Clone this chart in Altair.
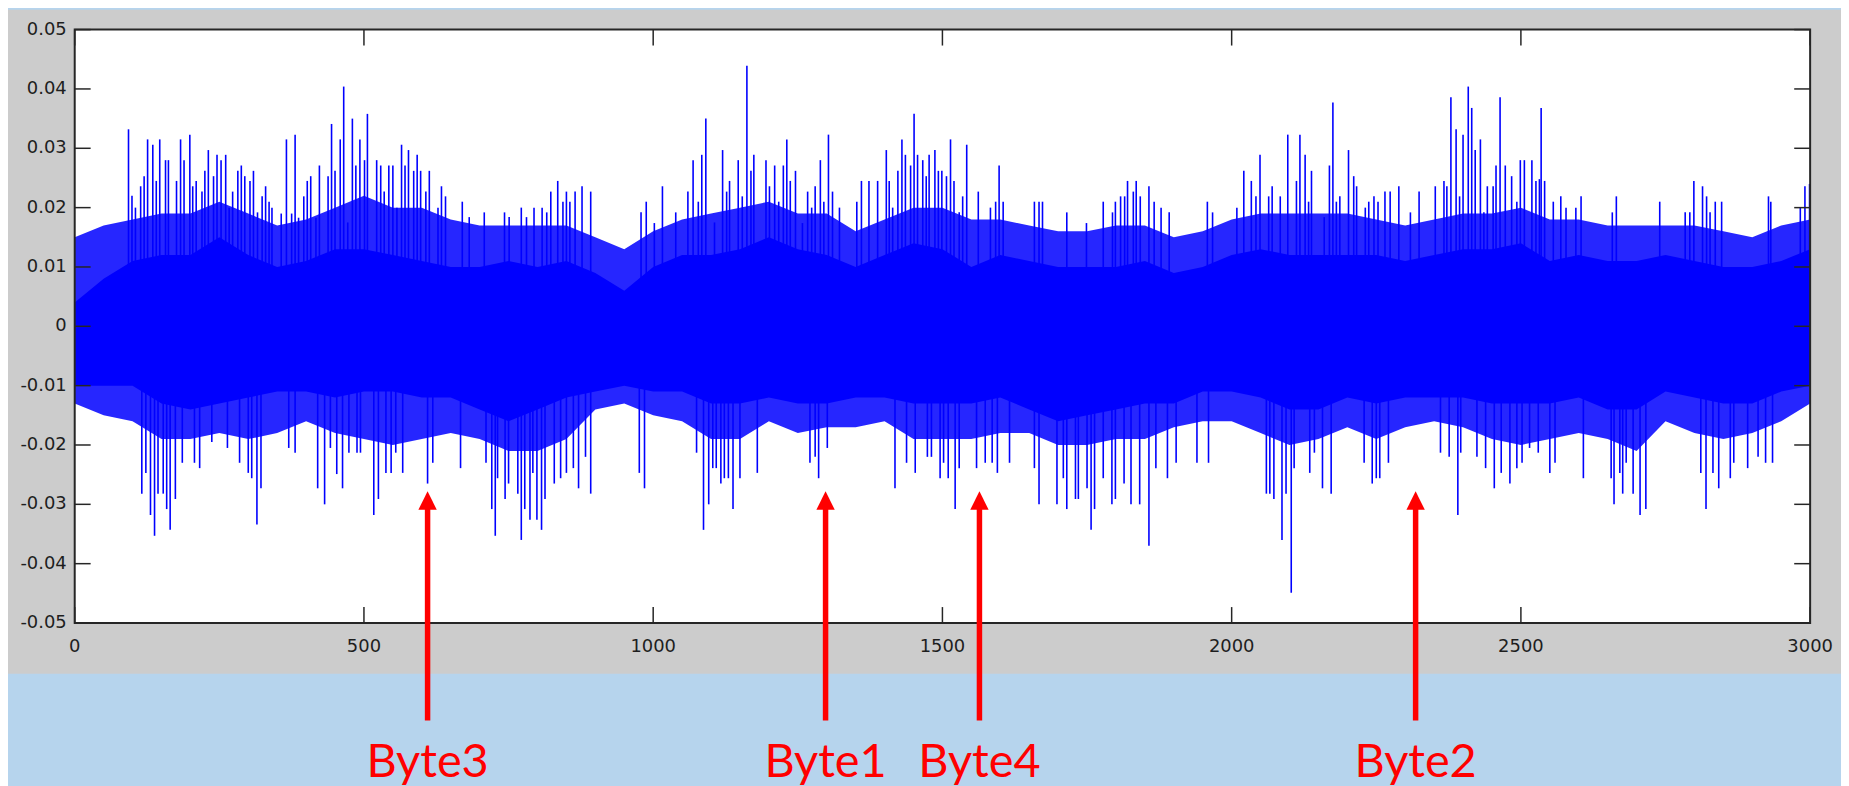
import altair as alt
import pandas as pd

# ---------------- data ----------------
env_x = list(range(0, 3001, 50))
upper_fringe = [0.015, 0.017, 0.018, 0.019, 0.019, 0.021, 0.019, 0.017, 0.018, 0.020,
                0.022, 0.020, 0.020, 0.018, 0.017, 0.017, 0.017, 0.017, 0.015, 0.013,
                0.016, 0.018, 0.019, 0.020, 0.021, 0.019, 0.019, 0.016, 0.018, 0.020,
                0.020, 0.018, 0.018, 0.017, 0.016, 0.016, 0.017, 0.017, 0.015, 0.016,
                0.018, 0.019, 0.019, 0.019, 0.019, 0.018, 0.017, 0.018, 0.019, 0.019,
                0.020, 0.018, 0.018, 0.017, 0.017, 0.017, 0.017, 0.016, 0.015, 0.017, 0.018]
upper_core = [0.004, 0.008, 0.011, 0.012, 0.012, 0.015, 0.012, 0.010, 0.011, 0.013,
              0.013, 0.012, 0.011, 0.010, 0.010, 0.011, 0.010, 0.011, 0.009, 0.006,
              0.010, 0.012, 0.012, 0.013, 0.015, 0.013, 0.012, 0.010, 0.012, 0.014,
              0.013, 0.010, 0.012, 0.011, 0.010, 0.010, 0.010, 0.011, 0.009, 0.010,
              0.012, 0.013, 0.012, 0.012, 0.012, 0.012, 0.011, 0.012, 0.013, 0.013,
              0.014, 0.011, 0.012, 0.011, 0.011, 0.012, 0.011, 0.010, 0.010, 0.011, 0.013]
lower_core = [-0.010, -0.010, -0.010, -0.013, -0.014, -0.013, -0.012, -0.011, -0.011, -0.012,
              -0.011, -0.011, -0.012, -0.012, -0.014, -0.016, -0.014, -0.012, -0.011, -0.010,
              -0.011, -0.011, -0.013, -0.013, -0.012, -0.013, -0.013, -0.012, -0.012, -0.013,
              -0.013, -0.013, -0.012, -0.014, -0.016, -0.015, -0.014, -0.013, -0.013, -0.011,
              -0.011, -0.012, -0.014, -0.014, -0.012, -0.013, -0.012, -0.012, -0.012, -0.013,
              -0.013, -0.013, -0.012, -0.014, -0.014, -0.011, -0.012, -0.013, -0.013, -0.011, -0.010]
lower_fringe = [-0.013, -0.015, -0.016, -0.019, -0.019, -0.018, -0.019, -0.018, -0.016, -0.018,
                -0.019, -0.020, -0.019, -0.018, -0.019, -0.021, -0.021, -0.019, -0.014, -0.013,
                -0.015, -0.016, -0.019, -0.019, -0.016, -0.018, -0.017, -0.017, -0.016, -0.019,
                -0.019, -0.019, -0.018, -0.018, -0.020, -0.020, -0.019, -0.019, -0.017, -0.016,
                -0.016, -0.018, -0.020, -0.019, -0.017, -0.019, -0.017, -0.016, -0.017, -0.019,
                -0.020, -0.019, -0.018, -0.019, -0.021, -0.016, -0.018, -0.019, -0.018, -0.016, -0.013]

top_spike_x = [93, 99, 105, 114, 120, 126, 135, 141, 147, 157, 162, 176, 183, 189, 199, 204,
               210, 220, 225, 231, 240, 246, 253, 261, 267, 273, 282, 288, 294, 303, 309, 316,
               324, 330, 336, 341, 357, 366, 375, 381, 387, 396, 402, 408, 417, 423, 438, 444,
               450, 459, 465, 472, 480, 486, 493, 501, 506, 522, 529, 535, 543, 550, 557, 565,
               571, 577, 586, 592, 598, 607, 613, 628, 634, 641, 670, 682, 708, 743, 751, 772,
               781, 794, 808, 816, 823, 835, 844, 850, 856, 865, 877, 892, 979, 988, 1002, 1016,
               1039, 1060, 1069, 1078, 1084, 1091, 1106, 1120, 1127, 1132, 1147, 1154, 1162, 1169,
               1174, 1195, 1201, 1210, 1217, 1225, 1231, 1237, 1246, 1258, 1267, 1274, 1280, 1289,
               1295, 1303, 1310, 1322, 1352, 1360, 1373, 1388, 1403, 1408, 1414, 1423, 1430, 1436,
               1445, 1451, 1457, 1466, 1472, 1477, 1487, 1493, 1499, 1507, 1514, 1520, 1529, 1535,
               1542, 1562, 1583, 1592, 1598, 1605, 1659, 1667, 1673, 1715, 1749, 1778, 1794, 1799,
               1808, 1815, 1820, 1830, 1835, 1842, 1857, 1866, 1878, 1892, 1958, 1967, 2009, 2021,
               2034, 2042, 2049, 2064, 2070, 2084, 2097, 2112, 2118, 2127, 2133, 2138, 2160, 2169,
               2175, 2181, 2187, 2202, 2211, 2216, 2231, 2237, 2246, 2253, 2265, 2274, 2289, 2309,
               2324, 2352, 2367, 2372, 2379, 2388, 2394, 2400, 2409, 2415, 2421, 2430, 2436, 2442,
               2452, 2457, 2464, 2473, 2484, 2493, 2499, 2506, 2519, 2526, 2532, 2535, 2541, 2556,
               2569, 2578, 2595, 2604, 2658, 2665, 2740, 2784, 2792, 2799, 2814, 2821, 2827, 2836,
               2847, 2928, 2932, 2983, 2991, 2999]
top_spike_y = [0.0332, 0.022, 0.020, 0.0236, 0.0253, 0.0315, 0.0306, 0.0245, 0.0315, 0.028, 0.028, 0.0245, 0.0315, 0.028, 0.0323, 0.0236,
               0.0245, 0.0227, 0.0262, 0.0297, 0.0253, 0.0289, 0.028, 0.0289, 0.020, 0.0227, 0.0262, 0.0271, 0.0253, 0.0245, 0.0262, 0.0192,
               0.0219, 0.0236, 0.021, 0.020, 0.019, 0.0315, 0.019, 0.0323, 0.0183, 0.0219, 0.0245, 0.0253, 0.0183, 0.0271, 0.0253, 0.0341,
               0.0262, 0.0315, 0.0404, 0.0175, 0.035, 0.0271, 0.0315, 0.028, 0.0358, 0.028, 0.0271, 0.0227, 0.0271, 0.0271, 0.020, 0.0306,
               0.0271, 0.0297, 0.0262, 0.0289, 0.0262, 0.0227, 0.0262, 0.020, 0.0236, 0.0219, 0.021, 0.0184, 0.0192, 0.0192, 0.0184, 0.020,
               0.0184, 0.020, 0.020, 0.0192, 0.0227, 0.0245, 0.021, 0.0227, 0.021, 0.0227, 0.0236, 0.0227, 0.0192, 0.021, 0.0174, 0.0236,
               0.0192, 0.0227, 0.028, 0.021, 0.0289, 0.035, 0.0175, 0.0297, 0.0227, 0.0245, 0.028, 0.0219, 0.0439, 0.0262,
               0.0289, 0.028, 0.0236, 0.0271, 0.021, 0.0271, 0.0315, 0.0245, 0.0262, 0.0174, 0.0227, 0.020, 0.0236, 0.028,
               0.021, 0.0323, 0.0227, 0.020, 0.021, 0.0245, 0.0245, 0.0245, 0.0297, 0.0245, 0.020, 0.0262, 0.0315, 0.0289,
               0.0271, 0.0358, 0.0289, 0.028, 0.0253, 0.0289, 0.0297, 0.0262, 0.0262, 0.0253, 0.0315, 0.0245, 0.0192, 0.0219,
               0.0306, 0.0227, 0.020, 0.021, 0.0271, 0.021, 0.021, 0.021, 0.021, 0.0192, 0.0174, 0.021, 0.0192, 0.021,
               0.0219, 0.0219, 0.0245, 0.0227, 0.0245, 0.0219, 0.0236, 0.021, 0.020, 0.0192, 0.021, 0.0192, 0.020, 0.0262,
               0.0245, 0.0219, 0.0289, 0.0219, 0.0236, 0.0219, 0.0323, 0.0245, 0.0323, 0.0289, 0.021, 0.0262, 0.0184, 0.0271,
               0.0377, 0.021, 0.0219, 0.0297, 0.0253, 0.0236, 0.020, 0.021, 0.0219, 0.021, 0.0227, 0.0227, 0.0236, 0.0192,
               0.0227, 0.0236, 0.0245, 0.0236, 0.0386, 0.0332, 0.0219, 0.0323, 0.0404, 0.0368, 0.0297, 0.0315, 0.0192, 0.0236,
               0.0236, 0.0271, 0.0386, 0.0271, 0.0253, 0.021, 0.028, 0.028, 0.028, 0.0245, 0.0248, 0.0368, 0.0245, 0.021,
               0.0219, 0.020, 0.020, 0.0219, 0.0192, 0.0219, 0.021, 0.0192, 0.0192, 0.0245, 0.0236, 0.0219, 0.0192, 0.021,
               0.021, 0.0219, 0.021, 0.020, 0.0236, 0.024]

bot_spike_x = [116, 123, 131, 138, 144, 153, 159, 165, 174, 186, 207, 216, 237, 264, 285, 300,
               306, 315, 322, 370, 381, 420, 432, 442, 453, 463, 474, 488, 494, 517, 525, 538,
               547, 555, 567, 610, 619, 667, 711, 721, 727, 731, 744, 750, 766, 772, 778, 787,
               792, 799, 807, 813, 829, 840, 850, 862, 871, 883, 892, 976, 985, 1075, 1087, 1096,
               1103, 1109, 1117, 1123, 1130, 1138, 1150, 1180, 1271, 1280, 1286, 1301, 1418, 1438,
               1453, 1474, 1481, 1496, 1502, 1510, 1522, 1529, 1559, 1574, 1586, 1595, 1616, 1659,
               1667, 1698, 1709, 1715, 1730, 1735, 1750, 1757, 1763, 1778, 1793, 1799, 1814, 1826,
               1841, 1857, 1869, 1889, 1904, 1940, 1960, 2060, 2066, 2073, 2087, 2094, 2103, 2108,
               2135, 2143, 2157, 2172, 2229, 2243, 2250, 2256, 2271, 2361, 2376, 2391, 2396, 2424,
               2439, 2454, 2466, 2481, 2493, 2502, 2515, 2530, 2550, 2559, 2608, 2656, 2661, 2671,
               2676, 2682, 2694, 2706, 2716, 2811, 2820, 2832, 2842, 2862, 2868, 2892, 2910, 2923, 2935]
bot_spike_y = [-0.0282, -0.0247, -0.0318, -0.0353, -0.0282, -0.0282, -0.0308, -0.0343, -0.0291, -0.023, -0.023, -0.0239, -0.0195, -0.0205, -0.023, -0.0247,
               -0.0256, -0.0334, -0.0273, -0.0205, -0.0213, -0.0273, -0.030, -0.0205, -0.0249, -0.0273, -0.0213, -0.0213, -0.0213, -0.0318, -0.0291, -0.0247,
               -0.0247, -0.0213, -0.0247, -0.0265, -0.023, -0.0239, -0.023, -0.0308, -0.0353, -0.0256, -0.0291, -0.0265, -0.0282, -0.036, -0.0308, -0.0326,
               -0.0247, -0.0326, -0.0343, -0.0291, -0.0265, -0.0256, -0.0247, -0.0239, -0.0273, -0.022, -0.0282, -0.0247, -0.0273, -0.0213, -0.0343, -0.030,
               -0.0239, -0.0239, -0.0265, -0.0256, -0.0256, -0.0308, -0.0256, -0.0247, -0.023, -0.022, -0.0256, -0.0205, -0.0273, -0.023,
               -0.0247, -0.022, -0.022, -0.0256, -0.023, -0.0256, -0.0308, -0.0239, -0.0239, -0.023, -0.023, -0.0247, -0.023, -0.0239,
               -0.030, -0.030, -0.0256, -0.0308, -0.0291, -0.0291, -0.0273, -0.0343, -0.0308, -0.0256, -0.030, -0.0291, -0.0265, -0.030,
               -0.030, -0.037, -0.0239, -0.0256, -0.023, -0.023, -0.023, -0.0282, -0.0282, -0.0291, -0.036, -0.0282, -0.0449, -0.0239,
               -0.0247, -0.0213, -0.0273, -0.0282, -0.023, -0.0265, -0.0256, -0.0256, -0.023, -0.0213, -0.022, -0.0318, -0.0213, -0.022,
               -0.0239, -0.0273, -0.0247, -0.0265, -0.0239, -0.023, -0.0205, -0.0213, -0.0247, -0.023, -0.0256, -0.0256, -0.030, -0.0247,
               -0.0282, -0.023, -0.0282, -0.0318, -0.0308, -0.0247, -0.0308, -0.0247, -0.0273, -0.0256, -0.023, -0.0239, -0.022, -0.023, -0.023]

x_ticks = [0, 500, 1000, 1500, 2000, 2500, 3000]
x_tick_labels = ["0", "500", "1000", "1500", "2000", "2500", "3000"]
y_ticks = [-0.05, -0.04, -0.03, -0.02, -0.01, 0, 0.01, 0.02, 0.03, 0.04, 0.05]
y_tick_labels = ["-0.05", "-0.04", "-0.03", "-0.02", "-0.01", "0",
                 "0.01", "0.02", "0.03", "0.04", "0.05"]

byte_labels = ["Byte3", "Byte1", "Byte4", "Byte2"]
byte_pos = [610, 1298, 1564, 2318]

# ---------------- layout ----------------
W, H = 1743, 596
PAD = {"left": 67, "top": 20, "right": 31, "bottom": 162}
BLUE = "#0000ff"
FRAME = "#262626"
TEXT = "#1e1e1e"
TICK_LEN = 16
LABEL_FONT = "DejaVu Sans"

env_df = pd.DataFrame({"s": env_x, "uf": upper_fringe, "uc": upper_core,
                       "lc": lower_core, "lf": lower_fringe})
top_df = pd.DataFrame({"x": top_spike_x, "y": top_spike_y})
bot_df = pd.DataFrame({"x": bot_spike_x, "y": bot_spike_y})
xt_df = pd.DataFrame({"t": x_ticks, "lab": x_tick_labels})
yt_df = pd.DataFrame({"v": y_ticks, "lab": y_tick_labels})
byte_df = pd.DataFrame({"pos": byte_pos, "label": byte_labels})
one = alt.Data(values=[{"a": 1}])

xs = alt.Scale(domain=[0, 3000], nice=False, zero=False)
ys = alt.Scale(domain=[-0.05, 0.05], nice=False, zero=False)

grey_bg = alt.Chart(one).mark_rect(color="#cccccc").encode(
    x=alt.value(-PAD["left"]), x2=alt.value(W + PAD["right"]),
    y=alt.value(-PAD["top"]), y2=alt.value(647))

white_bg = alt.Chart(one).mark_rect(color="#ffffff").encode(
    x=alt.value(0), x2=alt.value(W), y=alt.value(0), y2=alt.value(H))

fringe = alt.Chart(env_df).mark_area(color=BLUE, opacity=0.85).encode(
    x=alt.X("s:Q", scale=xs, axis=None),
    y=alt.Y("uf:Q", scale=ys, axis=None),
    y2="lf:Q")

core = alt.Chart(env_df).mark_area(color=BLUE, opacity=1).encode(
    x=alt.X("s:Q", scale=xs, axis=None),
    y=alt.Y("uc:Q", scale=ys, axis=None),
    y2="lc:Q")

top_sp = alt.Chart(top_df).mark_rule(color=BLUE, strokeWidth=1.6).encode(
    x=alt.X("x:Q", scale=xs, axis=None),
    y=alt.Y("y:Q", scale=ys, axis=None),
    y2=alt.datum(0))

bot_sp = alt.Chart(bot_df).mark_rule(color=BLUE, strokeWidth=1.6).encode(
    x=alt.X("x:Q", scale=xs, axis=None),
    y=alt.Y("y:Q", scale=ys, axis=None),
    y2=alt.datum(0))

tick_style = dict(color=FRAME, strokeWidth=1.5)
left_t = alt.Chart(yt_df).mark_rule(**tick_style).encode(
    y=alt.Y("v:Q", scale=ys, axis=None), x=alt.value(0), x2=alt.value(TICK_LEN))
right_t = alt.Chart(yt_df).mark_rule(**tick_style).encode(
    y=alt.Y("v:Q", scale=ys, axis=None), x=alt.value(W - TICK_LEN), x2=alt.value(W))
bottom_t = alt.Chart(xt_df).mark_rule(**tick_style).encode(
    x=alt.X("t:Q", scale=xs, axis=None), y=alt.value(H - TICK_LEN), y2=alt.value(H))
top_t = alt.Chart(xt_df).mark_rule(**tick_style).encode(
    x=alt.X("t:Q", scale=xs, axis=None), y=alt.value(0), y2=alt.value(TICK_LEN))

y_labels = alt.Chart(yt_df).mark_text(font=LABEL_FONT, fontSize=18, color=TEXT,
                                      align="right", baseline="middle").encode(
    y=alt.Y("v:Q", scale=ys, axis=None), x=alt.value(-8), text="lab:N")
x_labels = alt.Chart(xt_df).mark_text(font=LABEL_FONT, fontSize=18, color=TEXT,
                                      align="center", baseline="middle").encode(
    x=alt.X("t:Q", scale=xs, axis=None), y=alt.value(H + 24), text="lab:N")

border = alt.Chart(one).mark_rect(filled=False, color=FRAME, strokeWidth=2).encode(
    x=alt.value(0), x2=alt.value(W), y=alt.value(0), y2=alt.value(H))

shaft = alt.Chart(byte_df).mark_rule(color="#ff0000", strokeWidth=5.5).encode(
    x=alt.X("pos:Q", scale=xs, axis=None), y=alt.value(480), y2=alt.value(694))

head = alt.Chart(byte_df).mark_point(shape="M-1,1L0,-1L1,1Z", filled=True, size=340,
                                     color="#ff0000", opacity=1).encode(
    x=alt.X("pos:Q", scale=xs, axis=None), y=alt.value(473))

labels = alt.Chart(byte_df).mark_text(font="Lato", fontSize=47, color="#ff0000",
                                      align="center", baseline="alphabetic").encode(
    x=alt.X("pos:Q", scale=xs, axis=None), y=alt.value(751), text="label:N")

chart = alt.layer(grey_bg, white_bg, fringe, core, top_sp, bot_sp,
                  left_t, right_t, bottom_t, top_t, border, y_labels, x_labels,
                  shaft, head, labels).properties(
    width=W, height=H, padding=PAD,
    autosize=alt.AutoSizeParams(type="none"),
    background="#b6d4ed",
).configure_view(strokeWidth=0)

chart.save("out.html", embed_options={"renderer": "svg", "actions": False})
